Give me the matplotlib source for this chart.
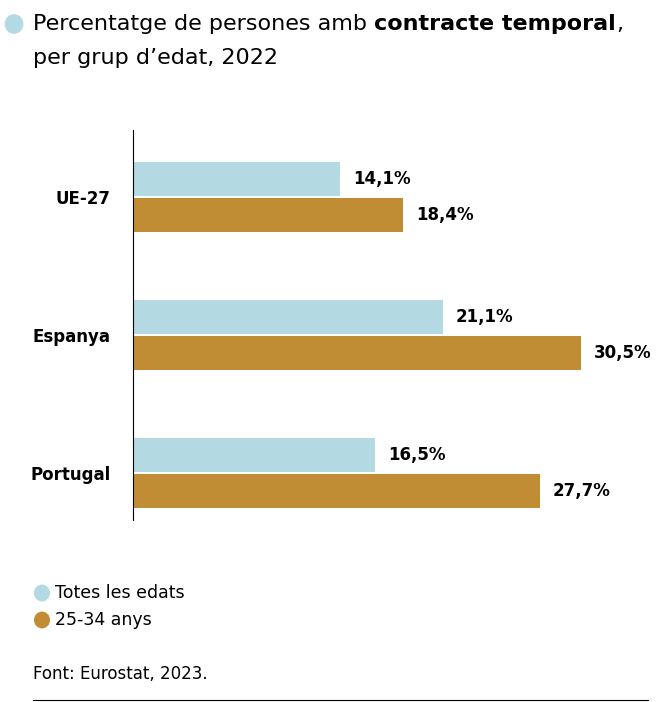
import matplotlib
matplotlib.use("Agg")
import matplotlib.pyplot as plt
from matplotlib.patches import Circle

categories = ["UE-27", "Espanya", "Portugal"]
totes = [14.1, 21.1, 16.5]
joves = [18.4, 30.5, 27.7]
series_names = ["Totes les edats", "25-34 anys"]
blue = "#b3d9e3"
brown = "#c08d35"

fig = plt.figure(figsize=(6.66, 7.02), dpi=100)
ax = fig.add_axes([133/666, 1-520/702, (640-133)/666, 390/702])
ys = range(len(categories))
h = 0.245
for i in ys:
    ax.barh(i-0.13, totes[i], height=h, color=blue)
    ax.barh(i+0.13, joves[i], height=h, color=brown)
    ax.text(totes[i]+0.9, i-0.13, f"{totes[i]:.1f}%".replace(".", ","), va="center", ha="left", fontsize=12, fontweight="bold")
    ax.text(joves[i]+0.9, i+0.13, f"{joves[i]:.1f}%".replace(".", ","), va="center", ha="left", fontsize=12, fontweight="bold")
ax.set_xlim(0, 34.54)
ax.set_ylim(2.34, -0.486)
ax.set_yticks(list(ys))
ax.set_yticklabels(categories, fontsize=12, fontweight="bold")
ax.tick_params(axis="y", length=0, pad=16)
ax.set_xticks([])
for s in ["top", "right", "bottom"]:
    ax.spines[s].set_visible(False)
ax.spines["left"].set_linewidth(0.8)

fig.patches.append(Circle((14/666, 1-24/702), 0.013, transform=fig.transFigure, color=blue))
fig.text(33/666, 1-24/702, "Percentatge de persones amb ", fontsize=16, va="center")
t = fig.text(33/666, 1-24/702, "", fontsize=16, va="center")
fig.text(33/666, 1-24/702, "                                                     ", fontsize=16, va="center")
# compose title with bold part
fig.canvas.draw()
r = fig.canvas.get_renderer()
t1 = fig.texts[0]
bb = t1.get_window_extent(r)
t2 = fig.text(bb.x1/666, 1-24/702, "contracte temporal", fontsize=16, va="center", fontweight="bold")
bb2 = t2.get_window_extent(r)
fig.text(bb2.x1/666, 1-24/702, ",", fontsize=16, va="center")
fig.text(33/666, 1-58/702, "per grup d\u2019edat, 2022", fontsize=16, va="center")

for j, (nm, c) in enumerate(zip(series_names, [blue, brown])):
    y = 1-(593+27*j)/702
    fig.patches.append(Circle((42/666, y), 0.011, transform=fig.transFigure, color=c))
    fig.text(55/666, y, nm, fontsize=12.5, va="center")
fig.text(33/666, 1-674/702, "Font: Eurostat, 2023.", fontsize=12, va="center")
fig.add_artist(plt.Line2D([33/666, 648/666], [1-700/702]*2, color="black", lw=0.8, transform=fig.transFigure))
fig.savefig("out.png", dpi=100)
